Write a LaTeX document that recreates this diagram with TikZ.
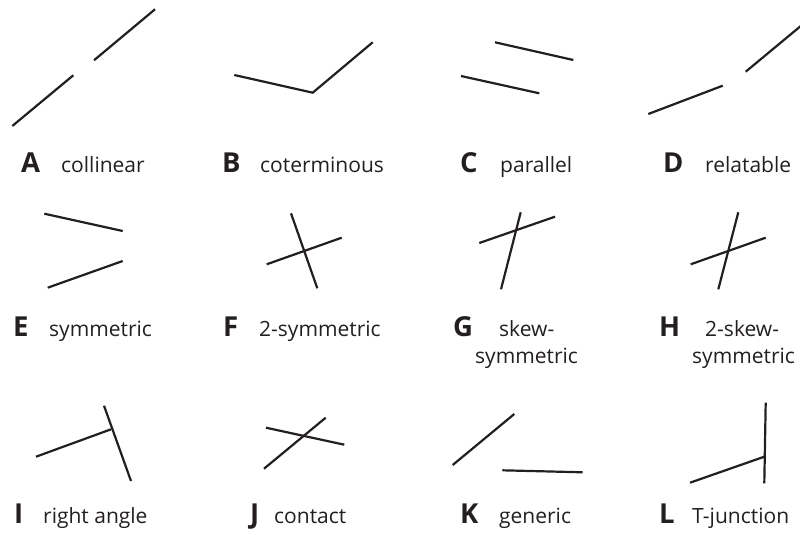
\documentclass[tikz,border=0pt]{standalone}
\usepackage{fontspec}
\setmainfont{Open Sans}
\definecolor{ink}{HTML}{231F20}
\tikzset{
  seg/.style={draw=ink, line width=2.2pt},
  letter/.style={anchor=base west, inner sep=0pt, text=ink, font=\fontsize{27.5}{30}\selectfont\bfseries},
  caption/.style={anchor=base west, inner sep=0pt, text=ink, font=\fontsize{21}{27}\selectfont},
}
\begin{document}
\begin{tikzpicture}[x=1pt,y=-1pt]
\useasboundingbox (0,0) rectangle (800,535);
\clip (0,0) rectangle (800,535);
% A collinear
\draw[seg] (12.3,126) -- (73.3,75.3);
\draw[seg] (94,60.3) -- (155,9.3);
% B coterminous
\draw[seg] (234.3,75) -- (312.7,92.7) -- (372.7,42.3);
% C parallel
\draw[seg] (495,42.3) -- (573.3,60);
\draw[seg] (461,76) -- (539.3,93.3);
% D relatable
\draw[seg] (648.3,114) -- (722.7,85.7);
\draw[seg] (745.7,71.7) -- (808,20);
% E symmetric
\draw[seg] (44.3,213.7) -- (122.7,231);
\draw[seg] (47.7,287.7) -- (122.7,261);
% F 2-symmetric
\draw[seg] (291,213.3) -- (317.3,288.3);
\draw[seg] (266.7,264.3) -- (341.7,237.7);
% G skew-symmetric
\draw[seg] (520.7,212.3) -- (501,289.3);
\draw[seg] (479.3,243) -- (555,216.7);
% H 2-skew-symmetric
\draw[seg] (738.3,212.3) -- (718.3,289.3);
\draw[seg] (690.7,264.3) -- (765.7,237.7);
% I right angle
\draw[seg] (36,456.7) -- (111,429.3);
\draw[seg] (104,405.7) -- (131,481);
% J contact
\draw[seg] (266,427.7) -- (344.3,444.7);
\draw[seg] (264,468.7) -- (325.7,417.7);
% K generic
\draw[seg] (452.7,465) -- (514.3,414);
\draw[seg] (502.3,470.3) -- (582.7,472.3);
% L T-junction
\draw[seg] (765.7,402.7) -- (764.3,483.3);
\draw[seg] (690,482.7) -- (764.3,456.7);
% labels
\node[letter] (lA) at (21,172) {A};
\node[caption] (tA) at (61,172) {collinear};
\node[letter] (lB) at (222,172) {B};
\node[caption] (tB) at (260,172) {coterminous};
\node[letter] (lC) at (460,172) {C};
\node[caption] (tC) at (500,172) {parallel};
\node[letter] (lD) at (663,172) {D};
\node[caption] (tD) at (705,172) {relatable};
\node[letter] (lE) at (13,336) {E};
\node[caption] (tE) at (49,336) {symmetric};
\node[letter] (lF) at (223,336) {F};
\node[caption] (tF) at (259,336) {2-symmetric};
\node[letter] (lG) at (453,336) {G};
\node[caption] (tG) at (499,336) {skew-};
\node[caption] (tG2) at (475,363) {symmetric};
\node[letter] (lH) at (659,336) {H};
\node[caption] (tH) at (705,336) {2-skew-};
\node[caption] (tH2) at (692,363) {symmetric};
\node[letter] (lI) at (14,523) {I};
\node[caption] (tI) at (43,523) {right angle};
\node[letter] (lJ) at (250,523) {J};
\node[caption] (tJ) at (274,523) {contact};
\node[letter] (lK) at (460,523) {K};
\node[caption] (tK) at (499,523) {generic};
\node[letter] (lL) at (659,523) {L};
\node[caption] (tL) at (692,523) {T-junction};
\end{tikzpicture}
\end{document}
